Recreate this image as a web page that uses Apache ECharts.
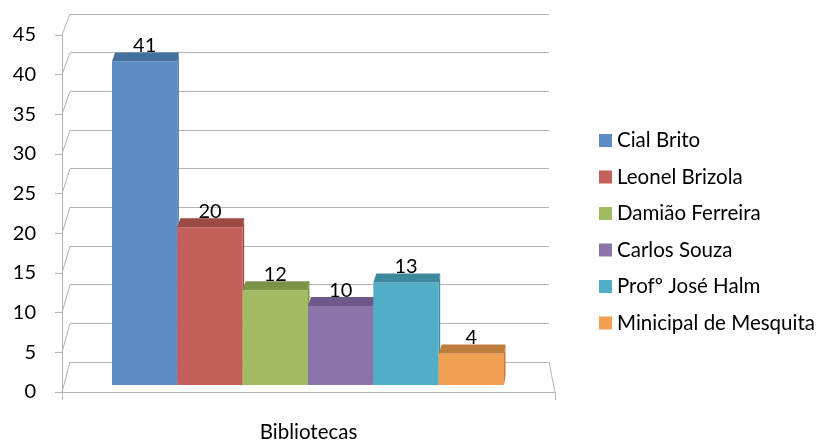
<!DOCTYPE html>
<html>
<head>
<meta charset="utf-8">
<script src="https://cdn.jsdelivr.net/npm/echarts@6/dist/echarts.min.js"></script>
<style>
  html, body { margin: 0; padding: 0; background: #fff; }
  #chart { width: 835px; height: 443px; }
</style>
</head>
<body>
<div id="chart"></div>
<script>
// data
var category = ['Bibliotecas'];
var libraries = ['Cial Brito', 'Leonel Brizola', 'Damião Ferreira', 'Carlos Souza', 'Profº José Halm', 'Minicipal de Mesquita'];
var counts = [41, 20, 12, 10, 13, 4];
var yTicks = [0, 5, 10, 15, 20, 25, 30, 35, 40, 45];

var faceColors = ['#5b8cc4', '#c3605b', '#a2bb63', '#8a74a8', '#52aec6', '#f0a050'];
var topColors  = ['#44709f', '#9c4a46', '#7b9448', '#6d5a8a', '#3e8a9d', '#c07c3a'];

var FONT = 'Lato';
var GRID_COLOR = '#b4b4b4';

// front plane (axis labels), back wall (gridlines), middle plane (bars)
var front = { left: 62, right: 280, top: 35, bottom: 48 };
var back  = { left: 70, right: 286, top: 14, bottom: 81 };
var mid   = { left: 112, right: 331, top: 30, bottom: 58 };

var myChart = echarts.init(document.getElementById('chart'));

function renderBar(params, api) {
    var i = params.seriesIndex;
    var topPt = api.coord([api.value(0), api.value(1)]);
    var basePt = api.coord([api.value(0), 0]);
    var w = api.size([1, 0])[0];
    var x0 = topPt[0] - w / 2, x1 = topPt[0] + w / 2;
    var yt = topPt[1], yb = basePt[1];
    var d = 9;
    return {
        type: 'group',
        children: [
            { type: 'polygon', shape: { points: [[x1, yt], [x1 + 1.5, yt - d], [x1 + 1.5, yb - d], [x1, yb]] },
              style: { fill: topColors[i] } },
            { type: 'rect', shape: { x: x0, y: yt, width: w, height: yb - yt },
              style: { fill: faceColors[i] } },
            { type: 'polygon', shape: { points: [[x0, yt], [x1, yt], [x1 + 1.5, yt - d], [x0 + 3, yt - d]] },
              style: { fill: topColors[i] } },
            { type: 'text', x: topPt[0], y: yt - d + 3,
              style: { text: String(api.value(1)), fill: '#000', font: '20px ' + FONT,
                       align: 'center', verticalAlign: 'bottom' } }
        ]
    };
}

var series = libraries.map(function (name, i) {
    return {
        type: 'custom',
        name: name,
        xAxisIndex: 2,
        yAxisIndex: 2,
        itemStyle: { color: faceColors[i] },
        renderItem: renderBar,
        data: [[i, counts[i]]],
        z: 3
    };
});

var option = {
    animation: false,
    backgroundColor: '#fff',
    textStyle: { fontFamily: FONT },
    legend: {
        orient: 'vertical',
        left: 594,
        top: 125,
        icon: 'rect',
        itemWidth: 13,
        itemHeight: 13,
        itemGap: 15.5,
        textStyle: { fontSize: 20.5, lineHeight: 20, color: '#000', fontFamily: FONT },
        data: libraries
    },
    grid: [front, back, mid],
    xAxis: [
        { type: 'category', gridIndex: 0, data: category,
          axisLine: { show: true, lineStyle: { color: GRID_COLOR } },
          axisTick: { show: true, length: 8, lineStyle: { color: GRID_COLOR } },
          axisLabel: { fontSize: 20.5, color: '#000', margin: 30, fontFamily: FONT } },
        { type: 'category', gridIndex: 1, data: category, show: false },
        { type: 'category', gridIndex: 2, data: libraries, show: false }
    ],
    yAxis: [
        { type: 'value', gridIndex: 0, min: 0, max: 45, interval: 5,
          axisLine: { show: true, lineStyle: { color: GRID_COLOR } },
          axisTick: { show: true, length: 7, lineStyle: { color: GRID_COLOR } },
          axisLabel: { fontSize: 20, color: '#000', margin: 26, fontFamily: FONT },
          splitLine: { show: false } },
        { type: 'value', gridIndex: 1, min: 0, max: 45, interval: 5,
          axisLine: { show: false }, axisTick: { show: false }, axisLabel: { show: false },
          splitLine: { show: true, lineStyle: { color: GRID_COLOR } } },
        { type: 'value', gridIndex: 2, min: 0, max: 45, show: false, splitLine: { show: false } }
    ],
    series: series
};

myChart.setOption(option);

// side wall lines joining the front axis ticks to the back wall gridlines
var frontRight = 835 - front.right;
var backRight = 835 - back.right;
var lines = yTicks.map(function (v) {
    var yf = myChart.convertToPixel({ yAxisIndex: 0 }, v);
    var yb = myChart.convertToPixel({ yAxisIndex: 1 }, v);
    return { type: 'line', shape: { x1: front.left, y1: yf, x2: back.left, y2: yb },
             style: { stroke: GRID_COLOR, lineWidth: 1 }, z: 1 };
});
var yf0 = myChart.convertToPixel({ yAxisIndex: 0 }, 0);
var yb0 = myChart.convertToPixel({ yAxisIndex: 1 }, 0);
lines.push({ type: 'line', shape: { x1: backRight, y1: yb0, x2: frontRight, y2: yf0 },
             style: { stroke: GRID_COLOR, lineWidth: 1 }, z: 1 });
myChart.setOption({ graphic: lines });
</script>
</body>
</html>
